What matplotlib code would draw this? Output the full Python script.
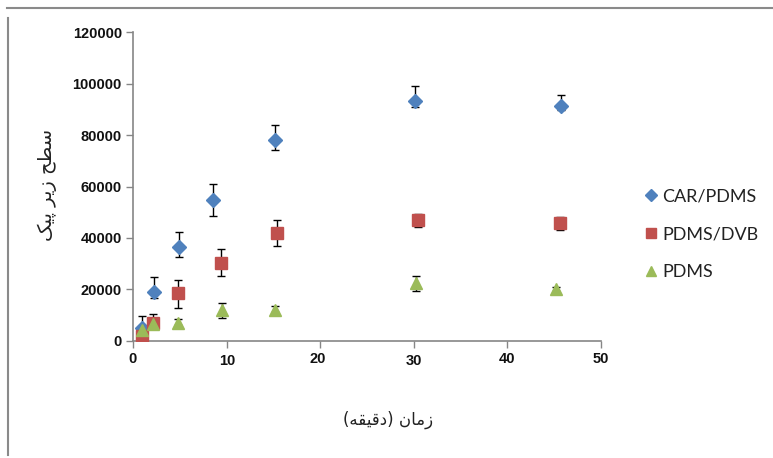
import matplotlib
matplotlib.use('Agg')
import matplotlib.pyplot as plt
import matplotlib.transforms as mtransforms
from matplotlib.lines import Line2D

# داده‌ها (خوانده شده از تصویر)
car_x = [1.0, 2.2, 4.9, 8.6, 15.2, 30.1, 45.7]
car_y = [5000, 19000, 36500, 54700, 78000, 93200, 91300]
car_lo = [2000, 2300, 3900, 6000, 3800, 2400, 1600]
car_hi = [4600, 5800, 6000, 6200, 6000, 5800, 4200]

dvb_x = [1.0, 2.1, 4.8, 9.4, 15.4, 30.4, 45.6]
dvb_y = [2000, 7000, 18400, 30300, 42000, 46900, 45900]
dvb_lo = [1500, 2000, 5600, 5100, 5300, 2800, 2800]
dvb_hi = [1500, 3600, 5400, 5200, 4800, 2600, 2300]

pdms_x = [1.0, 2.1, 4.8, 9.5, 15.2, 30.2, 45.2]
pdms_y = [4000, 6500, 7000, 11900, 11900, 22500, 20200]
pdms_lo = [1500, 1000, 900, 3000, 900, 3100, 800]
pdms_hi = [1500, 1000, 1400, 2800, 1600, 2600, 800]

series_names = ['CAR/PDMS', 'PDMS/DVB', 'PDMS']
x_ticks = [0, 10, 20, 30, 40, 50]
y_ticks = [0, 20000, 40000, 60000, 80000, 100000, 120000]

# Persian labels written in visual order with Arabic presentation forms
x_label = '(\uFEEA\uFED8\uFEF4\uFED7\uFEA9) \uFEE5\uFE8E\uFEE3\uFEAF'
y_label = '\uFB8F\uFBFF\uFB58 \uFEAE\uFBFE\uFEAF \uFEA2\uFEC4\uFEB3'

blue = '#4F81BD'
red = '#C0504D'
green = '#9BBB59'
axis_gray = '#868686'

fig = plt.figure(figsize=(7.73, 4.58), dpi=100)
ax = fig.add_axes([0.172, 0.256, 0.6055, 0.6735])

err_kw = dict(ecolor='black', elinewidth=1.0, capsize=3, capthick=1.0, zorder=2)

ax.errorbar(car_x, car_y, yerr=[car_lo, car_hi], fmt='none', **err_kw)
ax.errorbar(dvb_x, dvb_y, yerr=[dvb_lo, dvb_hi], fmt='none', **err_kw)
ax.errorbar(pdms_x, pdms_y, yerr=[pdms_lo, pdms_hi], fmt='none', **err_kw)

ax.plot(car_x, car_y, linestyle='none', marker='D', markersize=7, color=blue,
        markeredgecolor=blue, label=series_names[0], zorder=3)
ax.plot(dvb_x, dvb_y, linestyle='none', marker='s', markersize=9, color=red,
        markeredgecolor=red, label=series_names[1], zorder=3)
ax.plot(pdms_x, pdms_y, linestyle='none', marker='^', markersize=9, color=green,
        markeredgecolor=green, label=series_names[2], zorder=4)

ax.set_xlim(0, 50)
ax.set_ylim(0, 120000)
ax.set_xticks(x_ticks)
ax.set_yticks(y_ticks)

for side in ['top', 'right']:
    ax.spines[side].set_visible(False)
for side in ['left', 'bottom']:
    ax.spines[side].set_color(axis_gray)
    ax.spines[side].set_linewidth(1.2)

ax.tick_params(axis='both', colors=axis_gray, length=5, width=1.0, direction='out')
ax.tick_params(axis='both', labelcolor='#111111')
ax.set_yticklabels([str(v) for v in y_ticks], fontfamily='Liberation Sans',
                   fontweight='bold', fontsize=10.5)
ax.set_xticklabels([str(v) for v in x_ticks], fontfamily='Liberation Sans',
                   fontweight='bold', fontsize=10.5)
ax.tick_params(axis='x', pad=3)
ax.tick_params(axis='y', pad=3)

# Excel-like slight misalignment of some x tick labels
offsets = {1: (0.5, -2.5), 2: (-2.5, 0), 3: (0, -2.0)}
for i, lab in enumerate(ax.get_xticklabels()):
    if i in offsets:
        dx, dy = offsets[i]
        lab.set_transform(lab.get_transform() +
                          mtransforms.ScaledTranslation(dx / 100, dy / 100, fig.dpi_scale_trans))

ax.set_xlabel(x_label, fontfamily='DejaVu Sans', fontsize=12, color='#222222')
ax.xaxis.set_label_coords(0.545, -0.257)
ax.xaxis.label.set_verticalalignment('center')
ax.set_ylabel(y_label, fontfamily='DejaVu Sans', fontsize=14, color='#222222')
ax.yaxis.set_label_coords(-0.183, 0.505)
ax.yaxis.label.set_verticalalignment('center')

leg = ax.legend(loc='center left', bbox_to_anchor=(1.057, 0.345), frameon=False,
                prop={'family': 'Lato', 'size': 13}, handlelength=0.8,
                handletextpad=0.22, labelspacing=1.2, markerscale=0.85)
for txt in leg.get_texts():
    txt.set_color('#222222')

# outer frame lines of the original picture
fig.add_artist(Line2D([7 / 773, 1.0], [1 - 7.5 / 458, 1 - 7.5 / 458],
                      transform=fig.transFigure, color='#8a8a8a', linewidth=1.5))
fig.add_artist(Line2D([8.3 / 773, 8.3 / 773], [1 - 18 / 458, 1 - 455 / 458],
                      transform=fig.transFigure, color='#8a8a8a', linewidth=1.5))

fig.savefig('out.png', dpi=100)
